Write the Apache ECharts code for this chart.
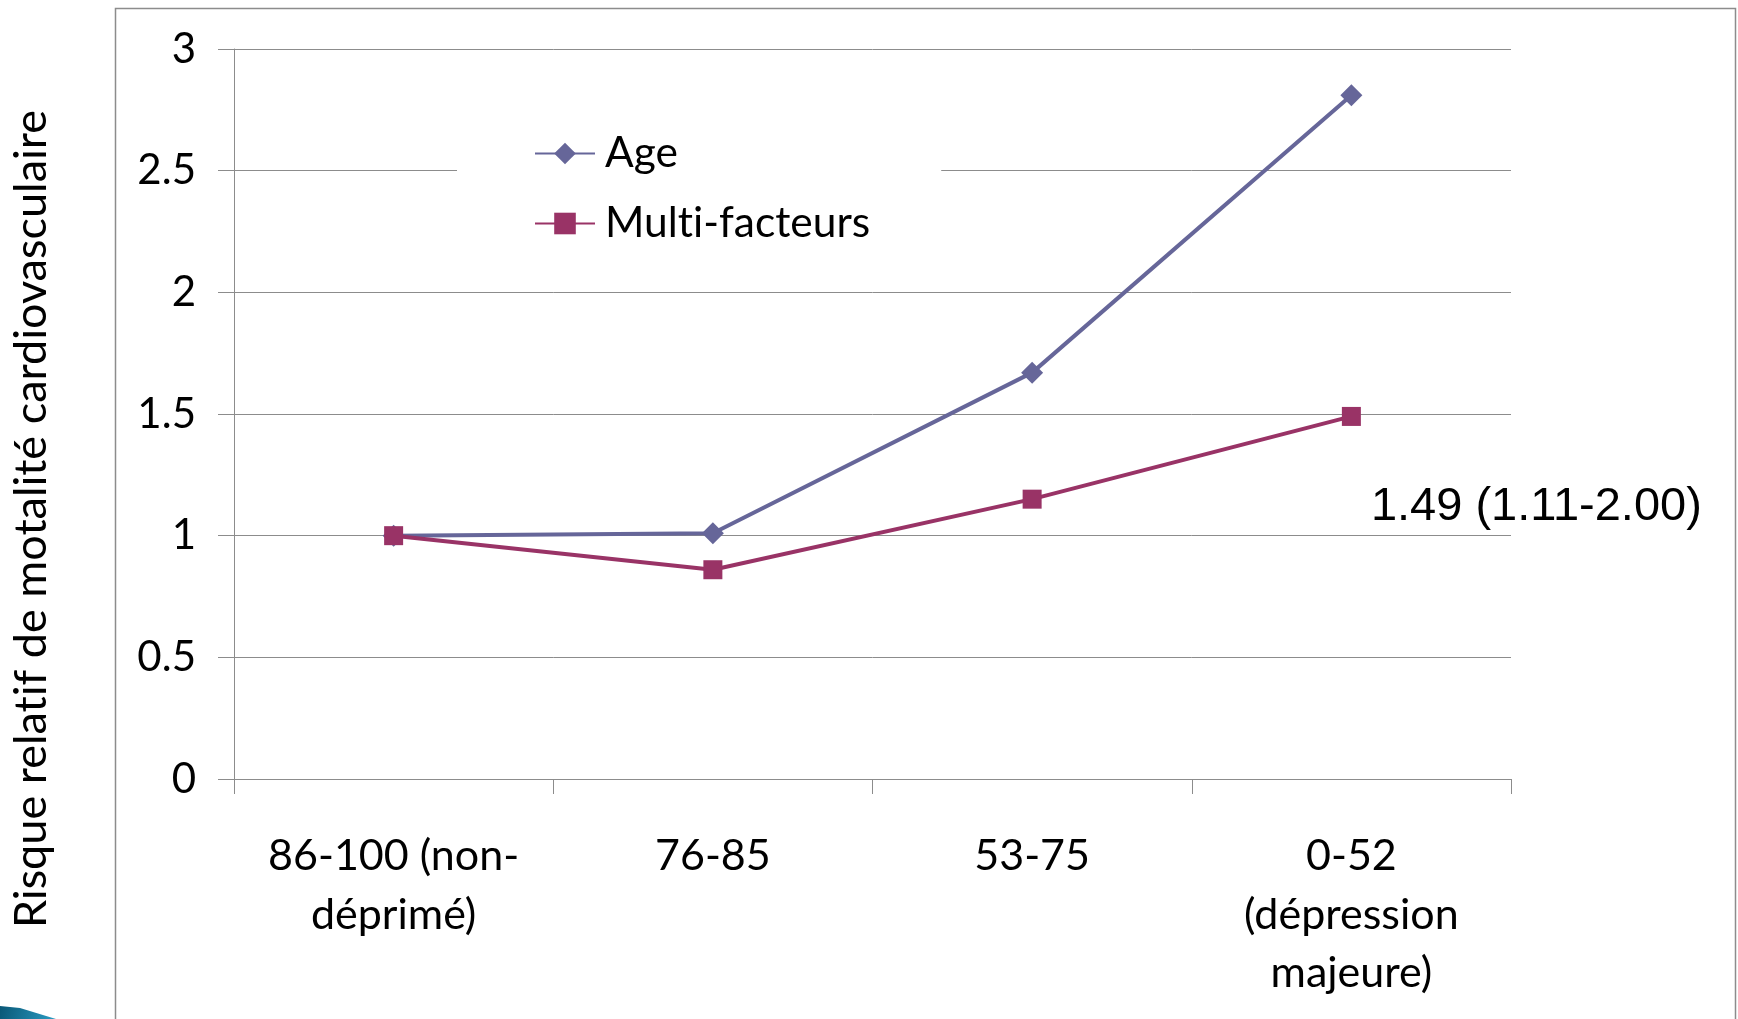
<!DOCTYPE html>
<html>
<head>
<meta charset="utf-8">
<script src="https://cdn.jsdelivr.net/npm/echarts@6/dist/echarts.min.js"></script>
<style>
  html, body { margin: 0; padding: 0; background: #ffffff; }
  #chart { width: 1738px; height: 1019px; }
</style>
</head>
<body>
<div id="chart"></div>
<script>
// Score categories (x axis)
const categories = ['86-100 (non-\ndéprimé)', '76-85', '53-75', '0-52\n(dépression\nmajeure)'];
// Relative risk of cardiovascular mortality
const ageValues = [1.0, 1.01, 1.67, 2.81];
const multiValues = [1.0, 0.86, 1.15, 1.49];
// Confidence interval for the last multi-factor point
const multiLastCI = '(1.11-2.00)';
// Value axis ticks
const yMin = 0;
const yMax = 3;
const yStep = 0.5;

const seriesNames = ['Age', 'Multi-facteurs'];
const yTitle = 'Risque relatif de motalité cardiovasculaire';

const AGE_COLOR = '#666699';
const MULTI_COLOR = '#993366';
const GRID_COLOR = '#8c8c8c';
const FONT = 'Lato';

// Lato joins "t"+"i" into a ligature; a zero-width non-joiner keeps the letters apart
const noLig = s => s.replace(/ti/g, 't\u200Ci');

const multiData = multiValues.map((v, i) => {
  if (i !== multiValues.length - 1) return v;
  return {
    value: v,
    label: {
      show: true,
      position: 'right',
      offset: [5, 91],
      fontFamily: 'Liberation Sans',
      fontSize: 47,
      color: '#000',
      formatter: p => p.value.toFixed(2) + ' ' + multiLastCI
    }
  };
});

const chart = echarts.init(document.getElementById('chart'), null, { renderer: 'canvas' });
chart.setOption({
  animation: false,
  backgroundColor: '#ffffff',
  grid: { left: 234, right: 227, top: 49, bottom: 240, containLabel: false },
  legend: {
    orient: 'vertical',
    left: 457,
    top: 102,
    data: seriesNames,
    formatter: name => noLig(name),
    backgroundColor: '#ffffff',
    padding: [30, 71, 30, 77],
    itemWidth: 60,
    itemHeight: 27,
    itemGap: 27,
    textStyle: { fontFamily: FONT, fontSize: 42.5, color: '#000', padding: [0, 0, 0, 5] }
  },
  xAxis: {
    type: 'category',
    data: categories,
    boundaryGap: true,
    axisLine: { show: true, lineStyle: { color: GRID_COLOR, width: 1 } },
    axisTick: { show: true, length: 15, inside: false, lineStyle: { color: GRID_COLOR, width: 1 } },
    axisLabel: {
      interval: 0,
      margin: 48,
      fontFamily: FONT,
      fontSize: 43,
      lineHeight: 58.5,
      color: '#000',
      align: 'center'
    },
    splitLine: { show: false }
  },
  yAxis: {
    type: 'value',
    min: yMin,
    max: yMax,
    interval: yStep,
    axisLine: { show: true, lineStyle: { color: GRID_COLOR, width: 1 } },
    axisTick: { show: true, length: 16, inside: false, lineStyle: { color: GRID_COLOR, width: 1 } },
    axisLabel: { margin: 38, fontFamily: FONT, fontSize: 42, color: '#000' },
    splitLine: { show: true, lineStyle: { color: GRID_COLOR, width: 1 } }
  },
  series: [
    {
      name: seriesNames[0],
      type: 'line',
      data: ageValues,
      symbol: 'diamond',
      symbolSize: 22,
      color: AGE_COLOR,
      lineStyle: { color: AGE_COLOR, width: 4 },
      itemStyle: { color: AGE_COLOR },
      z: 2
    },
    {
      name: seriesNames[1],
      type: 'line',
      data: multiData,
      symbol: 'rect',
      symbolSize: 19,
      color: MULTI_COLOR,
      lineStyle: { color: MULTI_COLOR, width: 4 },
      itemStyle: { color: MULTI_COLOR },
      z: 3
    }
  ],
  graphic: [
    {
      type: 'rect',
      z: -1,
      silent: true,
      shape: { x: 115.5, y: 8.5, width: 1620, height: 1100 },
      style: { fill: 'none', stroke: GRID_COLOR, lineWidth: 1.5 }
    },
    {
      type: 'text',
      x: 31,
      y: 519,
      rotation: Math.PI / 2,
      silent: true,
      style: {
        text: noLig(yTitle),
        fontFamily: FONT,
        fontSize: 45,
        fill: '#000',
        align: 'center',
        verticalAlign: 'middle'
      }
    },
    {
      type: 'polygon',
      silent: true,
      shape: { points: [[0, 1006], [20, 1008], [56, 1019], [0, 1019]] },
      style: {
        fill: new echarts.graphic.LinearGradient(0, 0, 1, 1, [
          { offset: 0, color: '#0a5877' },
          { offset: 1, color: '#2b9cc3' }
        ])
      }
    }
  ]
});
</script>
</body>
</html>
